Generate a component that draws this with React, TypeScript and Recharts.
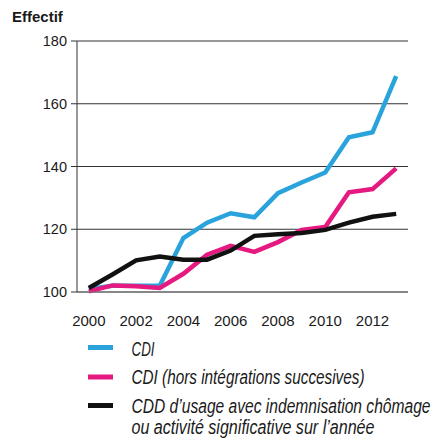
import { LineChart, Line, XAxis, YAxis, CartesianGrid } from "recharts";

document.body.style.margin = "0";
document.documentElement.style.overflow = "hidden";

const years = [2000, 2001, 2002, 2003, 2004, 2005, 2006, 2007, 2008, 2009, 2010, 2011, 2012, 2013];
const cdi = [101, 102, 102, 102, 117.2, 122.1, 125.1, 123.8, 131.5, 134.9, 138.1, 149.3, 150.9, 168.8];
const cdiHorsInteg = [100.2, 102.1, 101.8, 101.3, 105.8, 111.9, 114.7, 112.8, 115.9, 119.8, 120.7, 131.8, 132.8, 139.4];
const cddUsage = [101.3, 105.6, 110.1, 111.3, 110.3, 110.3, 113.2, 117.9, 118.4, 118.8, 119.8, 122.1, 124.0, 124.9];

const yTicks = [100, 120, 140, 160, 180];
const yearLabels = [2000, 2002, 2004, 2006, 2008, 2010, 2012];
// tick marks sit on the boundaries between years
const bandEdges = [...years.map((y) => y - 0.5), 2013.5];

const series = [
  { key: "cdi", lines: ["CDI"], color: "#2aa3dc" },
  { key: "hors", lines: ["CDI (hors intégrations succesives)"], color: "#e5197f" },
  {
    key: "cdd",
    lines: ["CDD d’usage avec indemnisation chômage", "ou activité significative sur l’année"],
    color: "#111111",
  },
];

// legend layout (condensed italic in the original, squeezed with textLength here)
const legendSwatchY = [12.5, 42, 70.5];
const legendBaselines = [[20.5], [49], [77.5, 98.5]];
const legendWidths = [[23], [233], [299, 243]];

const data = years.map((year, i) => ({
  year,
  cdi: cdi[i],
  hors: cdiHorsInteg[i],
  cdd: cddUsage[i],
}));

const axisFont = { fontFamily: "'Liberation Sans', Arial, sans-serif", fontSize: 14.5, fill: "#1a1a1a" };

export default function App() {
  return (
    <div style={{ position: "relative", width: 435, height: 439, background: "#fff", overflow: "hidden" }}>
      <div
        style={{
          position: "absolute",
          left: 12,
          top: 8,
          fontFamily: "'Liberation Sans', Arial, sans-serif",
          fontWeight: "bold",
          fontSize: 15,
          color: "#1a1a1a",
        }}
      >
        Effectif
      </div>
      <LineChart
        width={435}
        height={340}
        data={data}
        margin={{ top: 41, right: 27, left: 0, bottom: 8 }}
        style={{ position: "absolute", left: 0, top: 0 }}
      >
        <CartesianGrid horizontal vertical={false} stroke="#333" strokeWidth={1} />
        <XAxis
          xAxisId="edges"
          dataKey="year"
          type="number"
          domain={[1999.5, 2013.5]}
          ticks={bandEdges}
          tick={false}
          tickSize={7}
          height={8}
          stroke="#777"
        />
        <XAxis
          xAxisId="years"
          dataKey="year"
          type="number"
          domain={[1999.5, 2013.5]}
          ticks={yearLabels}
          axisLine={false}
          tickLine={false}
          tick={{ ...axisFont, fontSize: 15 }}
          tickMargin={9}
          height={32}
        />
        <YAxis
          domain={[100, 180]}
          ticks={yTicks}
          width={77}
          tickSize={6}
          stroke="#333"
          tick={axisFont}
          tickMargin={4}
        />
        {series.map((s) => (
          <Line
            key={s.key}
            xAxisId="years"
            dataKey={s.key}
            stroke={s.color}
            strokeWidth={4.5}
            dot={false}
            type="linear"
            isAnimationActive={false}
          />
        ))}
      </LineChart>
      <svg width={435} height={104} style={{ position: "absolute", left: 0, top: 335 }}>
        {series.map((s, i) => (
          <g key={s.key}>
            <rect x={88} y={legendSwatchY[i] - 2.5} width={25} height={5} fill={s.color} />
            {s.lines.map((line, j) => (
              <text
                key={j}
                x={131.5}
                y={legendBaselines[i][j]}
                textLength={legendWidths[i][j]}
                lengthAdjust="spacingAndGlyphs"
                fontFamily="'Liberation Sans', Arial, sans-serif"
                fontStyle="italic"
                fontSize={20}
                fill="#1a1a1a"
              >
                {line}
              </text>
            ))}
          </g>
        ))}
      </svg>
    </div>
  );
}
